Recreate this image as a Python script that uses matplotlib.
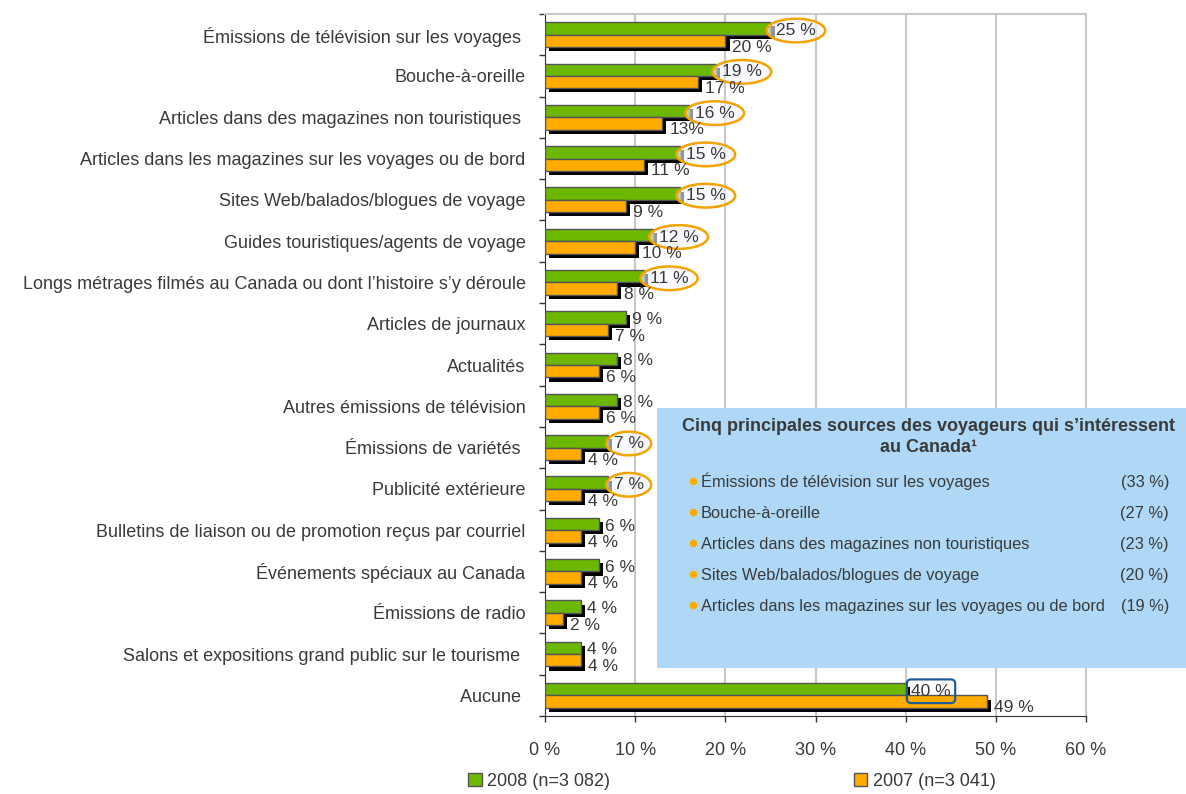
import numpy as np
import matplotlib.pyplot as plt
import matplotlib.patheffects as pe
from matplotlib.patches import Patch, Rectangle
from matplotlib.lines import Line2D
from matplotlib.ticker import FixedLocator

plt.rcParams['font.family'] = ['Liberation Sans', 'DejaVu Sans']

# données
categories = [
    "Émissions de télévision sur les voyages ",
    "Bouche-à-oreille",
    "Articles dans des magazines non touristiques ",
    "Articles dans les magazines sur les voyages ou de bord",
    "Sites Web/balados/blogues de voyage",
    "Guides touristiques/agents de voyage",
    "Longs métrages filmés au Canada ou dont l’histoire s’y déroule",
    "Articles de journaux",
    "Actualités",
    "Autres émissions de télévision",
    "Émissions de variétés ",
    "Publicité extérieure",
    "Bulletins de liaison ou de promotion reçus par courriel",
    "Événements spéciaux au Canada",
    "Émissions de radio",
    "Salons et expositions grand public sur le tourisme ",
    "Aucune ",
]
val_2008 = [25, 19, 16, 15, 15, 12, 11, 9, 8, 8, 7, 7, 6, 6, 4, 4, 40]
val_2007 = [20, 17, 13, 11, 9, 10, 8, 7, 6, 6, 4, 4, 4, 4, 2, 4, 49]
lab_2007 = ["20 %", "17 %", "13%", "11 %", "9 %", "10 %", "8 %", "7 %", "6 %", "6 %",
            "4 %", "4 %", "4 %", "4 %", "2 %", "4 %", "49 %"]
circled = [0, 1, 2, 3, 4, 5, 6, 10, 11]
x_ticks = [0, 10, 20, 30, 40, 50, 60]
legend_labels = ["2008 (n=3 082)", "2007 (n=3 041)"]

box_title = "Cinq principales sources des voyageurs qui s’intéressent\nau Canada¹"
box_items = [
    "Émissions de télévision sur les voyages",
    "Bouche-à-oreille",
    "Articles dans des magazines non touristiques",
    "Sites Web/balados/blogues de voyage",
    "Articles dans les magazines sur les voyages ou de bord",
]
box_pcts = ["(33 %)", "(27 %)", "(23 %)", "(20 %)", "(19 %)"]

GREEN = "#6cb800"
ORANGE = "#ffab00"
TXT = "#3a3a3a"
W, H = 1186, 794

fig = plt.figure(figsize=(W / 100, H / 100), dpi=100)
ax = fig.add_axes([545 / W, 1 - 716 / H, (1086 - 545) / W, (716 - 14) / H])

y = np.arange(len(categories))
h = 0.3
shadow = [pe.SimplePatchShadow(offset=(3, -3), shadow_rgbFace="black", alpha=1), pe.Normal()]

b08 = ax.barh(y - h / 2, val_2008, height=h, color=GREEN, edgecolor="#555555", linewidth=1, zorder=3)
b07 = ax.barh(y + h / 2, val_2007, height=h, color=ORANGE, edgecolor="#555555", linewidth=1, zorder=3)
for b in list(b08) + list(b07):
    b.set_path_effects(shadow)

# étiquettes
for i, (v8, v7) in enumerate(zip(val_2008, val_2007)):
    kw = {}
    if i in circled:
        kw["bbox"] = dict(boxstyle="ellipse,pad=0.05", fc=(0.96, 0.97, 1.0, 0.6),
                          ec="#f5a300", lw=1.8)
    elif i == len(categories) - 1:
        kw["bbox"] = dict(boxstyle="round,pad=0.25", fc="none", ec="#1f5d96", lw=1.6)
    ax.annotate(f"{v8} %", (v8, y[i] - h / 2), xytext=(4, -1.5), textcoords="offset points",
                ha="left", va="center", fontsize=12.5, color=TXT, zorder=5, **kw)
    ax.annotate(lab_2007[i], (v7, y[i] + h / 2), xytext=(5, -4.5), textcoords="offset points",
                ha="left", va="center", fontsize=12.5, color=TXT, zorder=5)

ax.set_xlim(0, 60)
ax.set_ylim(len(categories) - 0.5, -0.5)
ax.set_yticks(y)
ax.set_yticklabels(categories, fontsize=13, color=TXT)
ax.yaxis.set_minor_locator(FixedLocator(np.arange(len(categories) + 1) - 0.5))
ax.tick_params(axis="y", which="major", length=0, pad=14)
ax.tick_params(axis="y", which="minor", length=4, width=1, color="#333333")
ax.set_xticks(x_ticks)
ax.set_xticklabels([f"{t} %" for t in x_ticks], fontsize=13, color=TXT)
ax.tick_params(axis="x", length=4, width=1, color="#333333", pad=15)
ax.grid(axis="x", color="#c8c8c8", linewidth=1.5, zorder=0)
ax.set_axisbelow(True)
for s in ["top", "right"]:
    ax.spines[s].set_color("#c8c8c8")
    ax.spines[s].set_linewidth(1.5)
for s in ["left", "bottom"]:
    ax.spines[s].set_color("#333333")

# légende
handles = [Patch(fc=GREEN, ec="#555555"), Patch(fc=ORANGE, ec="#555555")]
fig.legend(handles, legend_labels, ncol=2, loc="center left",
           bbox_to_anchor=(468 / W, 1 - 781 / H), frameon=False, fontsize=13,
           handlelength=0.75, handleheight=0.75, handletextpad=0.3, columnspacing=13.5,
           borderpad=0, borderaxespad=0, labelcolor=TXT)

# encadré
fig.add_artist(Rectangle((657 / W, 1 - 668 / H), (W - 657) / W, (668 - 408) / H,
                         transform=fig.transFigure, fc="#aed8f5", ec="none", zorder=4))
fig.text(929 / W, 1 - 437 / H, box_title, ha="center", va="center", fontsize=13,
         fontweight="bold", color=TXT, linespacing=1.35, zorder=5)
for k, (item, pct) in enumerate(zip(box_items, box_pcts)):
    yc = 481 + 31 * k
    fig.add_artist(Line2D([693 / W], [1 - yc / H], marker="o", markersize=4.5, color=ORANGE,
                          linestyle="none", transform=fig.transFigure, zorder=5))
    fig.text(701 / W, 1 - (yc + 6) / H, item, ha="left", va="baseline", fontsize=11.8,
             color=TXT, zorder=5)
    fig.text(1169 / W, 1 - (yc + 6) / H, pct, ha="right", va="baseline", fontsize=11.8,
             color=TXT, zorder=5)

fig.savefig("out.png", dpi=100)
